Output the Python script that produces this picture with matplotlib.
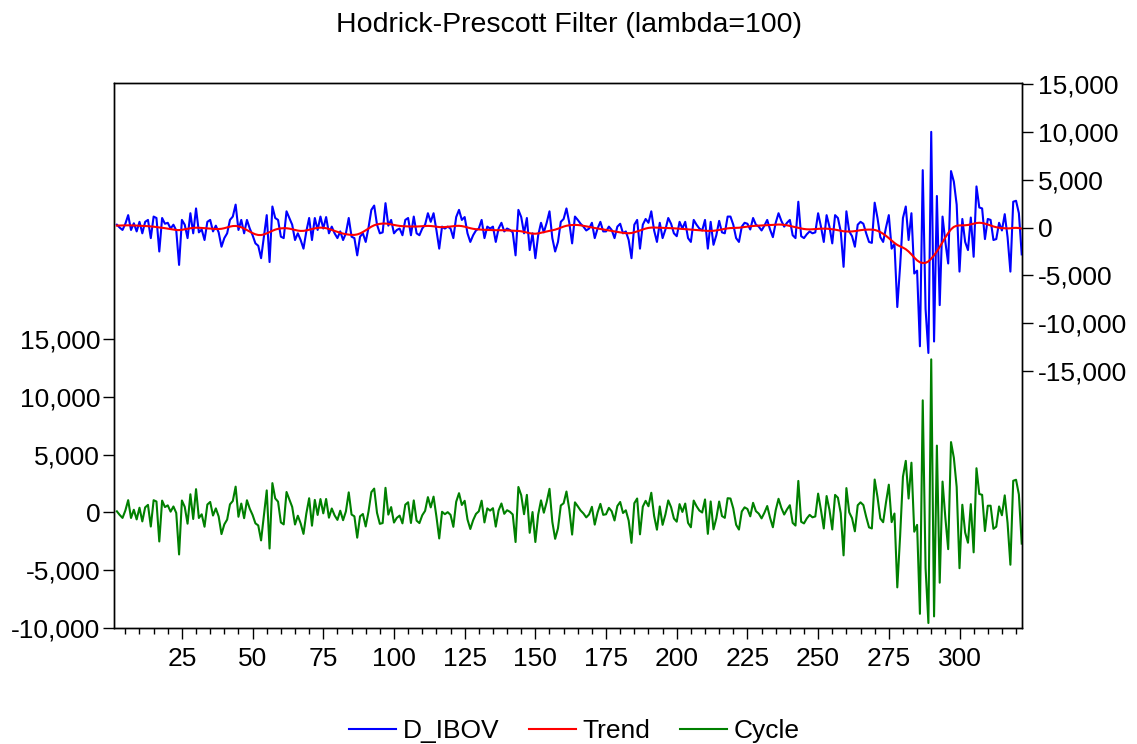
import numpy as np
import matplotlib
matplotlib.use("Agg")
import matplotlib.pyplot as plt
from matplotlib.ticker import FuncFormatter

plt.rcParams['font.family'] = ['Liberation Sans', 'DejaVu Sans']

# observations 2..322 (first difference loses obs 1)
obs = np.arange(2, 323)

# D_IBOV values
d_ibov = np.array([
    300, 0, -250, 400, 1300, -250, 450, -400, 600, -600,
    600, 800, -1100, 1150, 1000, -2500, 1000, 400, 500, -100,
    300, -300, -3900, 800, 300, -1100, 1500, -600, 2000, -500,
    -200, -1300, 600, 800, -400, 200, -500, -2000, -1100, -600,
    800, 1150, 2400, -250, 800, -600, 800, -100, -800, -1650,
    -1900, -3200, -950, 1300, -3600, 2200, 1000, 800, -950, -1100,
    1700, 1000, 300, -1300, -600, -1300, -2200, -400, 1000, -1300,
    1000, -250, 1150, -100, 1100, -600, 100, -600, -1100, -400,
    -1300, -600, 1000, -950, -1100, -2900, -950, -600, -1500, 0,
    1850, 2300, 300, -600, -500, 2550, 200, 800, -600, -250,
    -100, -800, 800, 1000, -800, 1150, -600, -800, -100, 300,
    1500, 600, 1500, -250, -2200, 100, -100, 100, -100, -1100,
    1100, 1850, 800, 1100, -600, -1500, -800, -300, -100, 800,
    -1100, 100, -100, 100, -1500, -100, 500, -400, -100, -250,
    -500, -2900, 1850, 1100, -600, 1000, -2350, -600, -3200, -800,
    500, -500, 500, 1700, -1100, -2500, -1500, 600, 900, 2000,
    500, -1650, 1150, 800, 400, 100, -300, -100, 500, -1100,
    -100, 600, -400, -400, 100, -250, -1100, 100, 400, -600,
    -400, -1300, -3200, 300, 800, -2200, 300, 900, 500, 1700,
    -300, -1500, 500, -1100, -200, 1000, 400, -600, -900, 600,
    -100, 600, -1100, -1500, 800, 300, -100, -300, 800, -2200,
    600, -1800, -800, 700, -500, -600, 1150, 1150, 300, -1100,
    -1500, 100, 500, 400, -200, 1000, 300, 100, -300, 200,
    800, -200, -1000, 500, 1500, 700, 100, 500, 800, -800,
    -1100, 2700, -900, -1100, -700, -400, -600, -500, 1500, 100,
    -1500, 1300, 100, -1650, 1300, 1000, -400, -4100, 1700, -400,
    -900, -2000, 300, 600, 400, -600, -1500, -1600, 2600, 1000,
    -1000, -1500, 0, 1300, -2200, -1700, -8300, -4000, 1000, 2200,
    -1300, 1500, -4800, -4500, -12400, 6000, -8500, -13100, 10000, -11900,
    3300, -8100, 1150, -1500, -3750, 5900, 4800, 2400, -4600, 900,
    -1500, -2350, 1050, -3050, 4300, 2100, 2000, -1200, 900, 800,
    -1300, -1200, 500, -300, 1400, -1000, -4600, 2700, 2800, 1500,
    -2800,
], dtype=float)

lam = 100


def hp_trend(y, lam):
    n = len(y)
    K = np.zeros((n - 2, n))
    for i in range(n - 2):
        K[i, i:i + 3] = [1, -2, 1]
    return np.linalg.solve(np.eye(n) + lam * K.T @ K, y)


trend = hp_trend(d_ibov, lam)
cycle = d_ibov - trend

fs = 19
fmt = FuncFormatter(lambda v, p: "{:,.0f}".format(v))

fig = plt.figure(figsize=(11.37, 7.44), dpi=100)
ax = fig.add_axes([0.1003, 0.1559, 0.7983, 0.7325])
ax2 = ax.twinx()

l_cyc, = ax.plot(obs, cycle, color='#008000', lw=1.5)
l_d, = ax2.plot(obs, d_ibov, color='#0000ff', lw=1.5)
l_tr, = ax2.plot(obs, trend, color='#ff0000', lw=1.5)

ax.set_xlim(1, 322)
ax.set_ylim(-10000, 37150)
ax2.set_ylim(-41830, 15100)

ax.set_xticks(np.arange(25, 301, 25))
ax.set_xticks(np.arange(5, 321, 5), minor=True)
ax.set_yticks(np.arange(-10000, 15001, 5000))
ax2.set_yticks(np.arange(-15000, 15001, 5000))
ax.yaxis.set_major_formatter(fmt)
ax2.yaxis.set_major_formatter(fmt)

ax.tick_params(axis='x', which='major', direction='out', length=8, width=1, labelsize=fs, pad=6)
ax.tick_params(axis='x', which='minor', direction='out', length=4, width=1)
ax.tick_params(axis='y', direction='out', length=8, width=1, labelsize=fs, pad=2)
ax2.tick_params(axis='y', direction='out', length=8, width=1, labelsize=fs, pad=4)

for a in (ax, ax2):
    for s in a.spines.values():
        s.set_linewidth(1.0)

fig.text(0.5, 0.966, "Hodrick-Prescott Filter (lambda=100)", ha='center', va='center', fontsize=20.5)

fig.legend([l_d, l_tr, l_cyc], ['D_IBOV', 'Trend', 'Cycle'], loc='center',
           bbox_to_anchor=(0.505, 0.017), ncol=3, frameon=False, fontsize=fs,
           handlelength=1.8, handletextpad=0.25, columnspacing=1.1)

fig.savefig("out.png", dpi=100)
